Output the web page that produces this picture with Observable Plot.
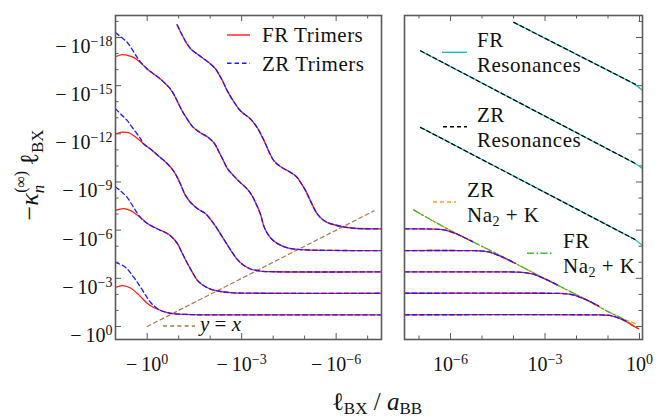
<!DOCTYPE html>
<html><head><meta charset="utf-8">
<script src="https://cdn.jsdelivr.net/npm/d3@7"></script>
<script src="https://cdn.jsdelivr.net/npm/@observablehq/plot@0.6"></script>
<style>
body{margin:0;background:#fff;}
#fig{position:relative;width:668px;height:417px;font-family:"Liberation Serif","DejaVu Serif",serif;}
#fig svg{position:absolute;top:0;}
#fig svg text{font-family:"Liberation Serif","DejaVu Serif",serif;}
</style></head><body><div id="fig"></div>
<script>
// ================= DATA (powers of ten) =================
// Left panel: x = log10|ℓBX/aBB| (negative side), y = log10|κ ℓBX|
const fr1X = [-0.95,-1.09,-1.27,-1.41,-1.59,-1.79,-2.01,-2.17,-2.27,-2.39,-2.54,-2.75,-2.96,-3.28,-3.49,-3.63,-3.76,-3.88,-4.02,-4.23,-4.55,-4.74,-4.87,-5.03,-5.18,-5.40,-5.57,-5.71,-6.03,-6.56,-7.44];
const fr1Y = [-18.79,-18.23,-17.59,-17.24,-16.97,-16.68,-16.35,-16.05,-15.73,-15.31,-14.69,-14.00,-13.44,-12.92,-12.40,-11.89,-11.37,-10.83,-10.33,-9.96,-9.60,-9.33,-8.98,-8.46,-7.84,-7.01,-6.66,-6.49,-6.29,-6.12,-6.08];
const fr2X = [1.01,0.79,0.63,0.43,0.21,0,-0.20,-0.42,-0.58,-0.74,-0.87,-0.95,-1.09,-1.27,-1.44,-1.69,-1.95,-2.14,-2.26,-2.39,-2.55,-2.74,-2.96,-3.15,-3.31,-3.44,-3.60,-3.72,-3.91,-4.14,-4.49,-4.87,-5.82,-7.44];
const fr2Y = [-16.80,-16.93,-16.89,-16.76,-16.43,-16.04,-15.74,-15.41,-15.12,-14.79,-14.37,-14.06,-13.50,-12.92,-12.45,-12.07,-11.76,-11.39,-10.95,-10.45,-9.83,-9.40,-8.96,-8.62,-8.21,-7.72,-6.97,-6.16,-5.54,-5.16,-4.88,-4.79,-4.74,-4.73];
const fr3X = [1.01,0.82,0.59,0.34,0.12,-0.17,-0.42,-0.64,-0.83,-0.96,-1.09,-1.22,-1.38,-1.60,-1.85,-2.04,-2.20,-2.36,-2.52,-2.68,-2.84,-3.03,-3.28,-3.60,-4.07,-7.44];
const fr3Y = [-11.98,-12.10,-12.07,-11.76,-11.39,-10.95,-10.52,-10.14,-9.71,-9.27,-8.71,-8.15,-7.72,-7.34,-7.03,-6.60,-6.16,-5.66,-5.16,-4.67,-4.23,-3.86,-3.58,-3.45,-3.41,-3.40];
const fr4X = [1.01,0.75,0.53,0.21,-0.01,-0.33,-0.64,-0.80,-0.96,-1.12,-1.28,-1.44,-1.60,-1.79,-2.01,-2.33,-2.74,-3.60,-7.44];
const fr4Y = [-7.22,-7.34,-7.22,-6.78,-6.41,-6.07,-5.79,-5.54,-5.16,-4.54,-3.92,-3.36,-2.86,-2.55,-2.33,-2.18,-2.10,-2.07,-2.07];
const fr5X = [1.01,0.78,0.53,0.31,0.15,-0.01,-0.20,-0.42,-0.64,-0.83,-1.22,-1.69,-7.44];
const fr5Y = [-2.43,-2.55,-2.40,-2.05,-1.74,-1.43,-1.18,-1.00,-0.87,-0.80,-0.75,-0.73,-0.73];
// ZR trimers: own left-hand part, then identical to FR
const zr2HeadX = [1.01,0.82,0.63,0.43,0.28], zr2HeadY = [-18.31,-18.01,-17.69,-17.11,-16.65], zr2From = 5;
const zr3HeadX = [1.01,0.82,0.63,0.40,0.21], zr3HeadY = [-13.57,-13.19,-12.82,-12.20,-11.70], zr3From = 4;
const zr4HeadX = [1.01,0.82,0.63,0.43], zr4HeadY = [-8.71,-8.40,-8.03,-7.41], zr4From = 3;
const zr5HeadX = [1.01,0.69,0.43,0.21,0,-0.17], zr5HeadY = [-4.00,-3.69,-3.07,-2.45,-1.80,-1.37], zr5From = 7;
// y = x guide
const yxX = [0, -7.2], yxY = [0, -7.2];

// Right panel: x = log10(ℓBX/aBB) (positive side), y = log10|κ ℓBX|
const rt1X = [-7.45,-7.0,-6.6,-6.33,-6.08,-5.83,-5.58,-5.3], rt1Y = [-6.08,-6.08,-6.07,-6.05,-5.96,-5.78,-5.56,-5.29];
const rt2X = [-7.45,-5.6,-5.23,-4.98,-4.73,-4.48,-4.23,-3.95], rt2Y = [-4.73,-4.73,-4.72,-4.70,-4.61,-4.43,-4.21,-3.94];
const rt3X = [-7.45,-4.3,-3.9,-3.65,-3.40,-3.15,-2.9,-2.6], rt3Y = [-3.40,-3.40,-3.39,-3.36,-3.27,-3.09,-2.87,-2.58];
const rt4X = [-7.45,-3.0,-2.55,-2.3,-2.07,-1.82,-1.57,-1.3], rt4Y = [-2.07,-2.07,-2.06,-2.03,-1.95,-1.77,-1.55,-1.28];
const rt5FrX = [-7.45,-1.6,-1.2,-0.95,-0.8,-0.6,-0.4,-0.22,-0.03], rt5FrY = [-0.73,-0.73,-0.72,-0.69,-0.62,-0.48,-0.28,-0.05,0.13];
const rt5ZrX = [-7.45,-1.6,-1.2,-0.95,-0.8,-0.6,-0.39], rt5ZrY = [-0.73,-0.73,-0.72,-0.69,-0.62,-0.48,-0.30];
const res1ZrX = [-3.99,-0.13], res1ZrY = [-18.94,-15.08];
const res1FrX = [-3.99,-1.0,-0.4,-0.15,0.09], res1FrY = [-18.94,-15.95,-15.35,-15.08,-14.72];
const res2ZrX = [-6.95,-0.13], res2ZrY = [-17.17,-10.15];
const res2FrX = [-6.95,-1.0,-0.4,-0.15,0.09], res2FrY = [-17.17,-11.04,-10.43,-10.17,-9.85];
const res3ZrX = [-6.95,-0.13], res3ZrY = [-12.40,-5.40];
const res3FrX = [-6.95,-1.0,-0.4,-0.15,0.09], res3FrY = [-12.40,-6.30,-5.68,-5.42,-5.06];
const adZrX = [-7.17,-6.0,-4.5,-3.0,-1.8,-1.0,-0.6,-0.13], adZrY = [-7.26,-5.98,-4.50,-2.97,-1.78,-0.93,-0.55,-0.17];
const adFrX = [-7.17,-6.0,-4.5,-3.0,-1.8,-1.0,-0.6,-0.3,0.01], adFrY = [-7.26,-5.98,-4.50,-2.97,-1.78,-0.93,-0.55,-0.20,0.21];

// ticks
const xMajL = [1, 1e-3, 1e-6], xMinL = [1e-1, 1e-2, 1e-4, 1e-5, 1e-7];
const xMajR = [1e-6, 1e-3, 1], xMinR = [1e-7, 1e-5, 1e-4, 1e-2, 1e-1];
const yMaj = [1e-18, 1e-15, 1e-12, 1e-9, 1e-6, 1e-3, 1];
const yMin = [1e-19, 1e-17, 1e-16, 1e-14, 1e-13, 1e-11, 1e-10, 1e-8, 1e-7, 1e-5, 1e-4, 1e-2, 1e-1];

// ================= BUILD =================
const P = e => Math.pow(10, e);
const rows = (xs, ys, name) => xs.map((x, i) => ({x: P(x), y: P(ys[i]), name}));
const frLeft = [rows(fr1X, fr1Y, "1"), rows(fr2X, fr2Y, "2"), rows(fr3X, fr3Y, "3"), rows(fr4X, fr4Y, "4"), rows(fr5X, fr5Y, "5")].flat();
const zrLeft = [
  rows(fr1X, fr1Y, "1"),
  rows(zr2HeadX.concat(fr2X.slice(zr2From)), zr2HeadY.concat(fr2Y.slice(zr2From)), "2"),
  rows(zr3HeadX.concat(fr3X.slice(zr3From)), zr3HeadY.concat(fr3Y.slice(zr3From)), "3"),
  rows(zr4HeadX.concat(fr4X.slice(zr4From)), zr4HeadY.concat(fr4Y.slice(zr4From)), "4"),
  rows(zr5HeadX.concat(fr5X.slice(zr5From)), zr5HeadY.concat(fr5Y.slice(zr5From)), "5")
].flat();
const frRight = [rows(rt1X, rt1Y, "1"), rows(rt2X, rt2Y, "2"), rows(rt3X, rt3Y, "3"), rows(rt4X, rt4Y, "4"), rows(rt5FrX, rt5FrY, "5")].flat();
const zrRight = [rows(rt1X, rt1Y, "1"), rows(rt2X, rt2Y, "2"), rows(rt3X, rt3Y, "3"), rows(rt4X, rt4Y, "4"), rows(rt5ZrX, rt5ZrY, "5")].flat();
const resFr = [rows(res1FrX, res1FrY, "1"), rows(res2FrX, res2FrY, "2"), rows(res3FrX, res3FrY, "3")].flat();
const resZr = [rows(res1ZrX, res1ZrY, "1"), rows(res2ZrX, res2ZrY, "2"), rows(res3ZrX, res3ZrY, "3")].flat();

const FONT = "Liberation Serif, DejaVu Serif, serif";
const FR_RED = "#ff1a1a", ZR_BLUE = "#1a1aff", CYAN = "#1cbcc4", ORANGE = "#ff9a2a", GREEN = "#3fb83a", BROWN = "#a57a4e";
const FS = "#5a5a5a";
const H = 417, MT = 15, MB = 78, FH = H - MT - MB;
const yScale = {type: "log", domain: [P(0.81), P(-19.37)], label: null};
const TM = 6, Tm = 3.5;
const expFmt = neg => d => (neg ? "−\u2009" : "") + "10^" + Math.round(Math.log10(d));

// Left panel
const WL = 392, MLL = 115, MRL = 11, FWL = WL - MLL - MRL;
const left = Plot.plot({
  width: WL, height: H, marginLeft: MLL, marginRight: MRL, marginTop: MT, marginBottom: MB,
  style: {fontFamily: FONT, fontSize: "20px", background: "transparent", overflow: "visible", color: "#111"},
  x: {type: "log", domain: [P(1.006), P(-7.44)], label: null},
  y: yScale,
  marks: [
    Plot.tickX(xMajL, {x: d => d, insetTop: FH - TM, stroke: FS}),
    Plot.tickX(xMinL, {x: d => d, insetTop: FH - Tm, stroke: FS}),
    Plot.tickX(xMajL, {x: d => d, insetBottom: FH - TM, stroke: FS}),
    Plot.tickX(xMinL, {x: d => d, insetBottom: FH - Tm, stroke: FS}),
    Plot.tickY(yMaj, {y: d => d, insetRight: FWL - TM, stroke: FS}),
    Plot.tickY(yMin, {y: d => d, insetRight: FWL - Tm, stroke: FS}),
    Plot.line(rows(yxX, yxY, "yx"), {x: "x", y: "y", stroke: BROWN, strokeWidth: 1.2, strokeDasharray: "4,3.2", clip: true}),
    Plot.line(frLeft, {x: "x", y: "y", z: "name", stroke: FR_RED, strokeWidth: 1.3, curve: "catmull-rom", clip: true}),
    Plot.line(zrLeft, {x: "x", y: "y", z: "name", stroke: ZR_BLUE, strokeWidth: 1.3, strokeDasharray: "4.5,3", curve: "catmull-rom", clip: true}),
    Plot.axisX(xMajL, {tickSize: 0, tickPadding: 17, tickFormat: expFmt(true), label: null}),
    Plot.axisY(yMaj, {tickSize: 0, tickPadding: 3, tickFormat: expFmt(true), label: null}),
    Plot.frame({stroke: FS, strokeWidth: 1.6})
  ]
});

// Right panel
const WR = 276, MLR = 12, MRR = 26, FWR = WR - MLR - MRR;
const right = Plot.plot({
  width: WR, height: H, marginLeft: MLR, marginRight: MRR, marginTop: MT, marginBottom: MB,
  style: {fontFamily: FONT, fontSize: "20px", background: "transparent", overflow: "visible", color: "#111"},
  x: {type: "log", domain: [P(-7.46), P(0.095)], label: null},
  y: {...yScale, axis: null},
  marks: [
    Plot.tickX(xMajR, {x: d => d, insetTop: FH - TM, stroke: FS}),
    Plot.tickX(xMinR, {x: d => d, insetTop: FH - Tm, stroke: FS}),
    Plot.tickX(xMajR, {x: d => d, insetBottom: FH - TM, stroke: FS}),
    Plot.tickX(xMinR, {x: d => d, insetBottom: FH - Tm, stroke: FS}),
    Plot.tickY(yMaj, {y: d => d, insetLeft: FWR - TM, stroke: FS}),
    Plot.tickY(yMin, {y: d => d, insetLeft: FWR - Tm, stroke: FS}),
    Plot.line(resFr, {x: "x", y: "y", z: "name", stroke: CYAN, strokeWidth: 1.3, curve: "catmull-rom", clip: true}),
    Plot.line(resZr, {x: "x", y: "y", z: "name", stroke: "#000", strokeWidth: 1.2, strokeDasharray: "4,3", clip: true}),
    Plot.line(rows(adZrX, adZrY, "zr"), {x: "x", y: "y", stroke: ORANGE, strokeWidth: 1.3, strokeDasharray: "4,3", curve: "catmull-rom", clip: true}),
    Plot.line(rows(adFrX, adFrY, "fr"), {x: "x", y: "y", stroke: GREEN, strokeWidth: 1.3, strokeDasharray: "7,2.5,1.5,2.5", curve: "catmull-rom", clip: true}),
    Plot.line(frRight, {x: "x", y: "y", z: "name", stroke: FR_RED, strokeWidth: 1.3, curve: "catmull-rom", clip: true}),
    Plot.line(zrRight, {x: "x", y: "y", z: "name", stroke: ZR_BLUE, strokeWidth: 1.3, strokeDasharray: "4.5,3", curve: "catmull-rom", clip: true}),
    Plot.axisX(xMajR, {tickSize: 0, tickPadding: 17, tickFormat: expFmt(false), label: null}),
    Plot.frame({stroke: FS, strokeWidth: 1.6})
  ]
});

function superscriptify(svg, isY) {
  d3.select(svg).selectAll("text").each(function () {
    const t = this.textContent;
    const m = t.match(/^(.*)\^(.*)$/);
    if (!m) return;
    const s = d3.select(this);
    s.text(null);
    if (isY && this.closest('[aria-label="y-axis tick label"]')) s.attr("dy", "0.45em");
    s.append("tspan").text(m[1]);
    s.append("tspan").attr("dy", "-0.5em").attr("font-size", "14px").text(m[2].replace("-", "−"));
  });
}
superscriptify(left, true);
superscriptify(right, false);

const fig = document.getElementById("fig");
left.style.left = "0px";
right.style.left = WL + "px";
fig.appendChild(left);
fig.appendChild(right);

// overlay: axis titles and legends
const ov = d3.select(fig).append("svg").attr("width", 668).attr("height", 417)
  .style("left", "0px").style("pointer-events", "none")
  .attr("font-family", FONT).attr("fill", "#111");

// y title
const yt = ov.append("text").attr("transform", "translate(38,175) rotate(-90)").attr("text-anchor", "middle").attr("font-size", 26);
yt.append("tspan").text("−");
yt.append("tspan").attr("font-style", "italic").text("κ");
yt.append("tspan").attr("font-size", 17).attr("font-style", "italic").attr("dy", 6).text("n");
yt.append("tspan").attr("font-size", 16).attr("dx", -8).attr("dy", -18).text("(∞)");
yt.append("tspan").attr("dy", 12).text("\u2009");
yt.append("tspan").text("ℓ");
yt.append("tspan").attr("font-size", 17).attr("dy", 5).text("BX");

// x title
const xt = ov.append("text").attr("x", 377).attr("y", 410).attr("text-anchor", "middle").attr("font-size", 25);
xt.append("tspan").text("ℓ");
xt.append("tspan").attr("font-size", 17).attr("dy", 4).text("BX");
xt.append("tspan").attr("dy", -4).text(" / ");
xt.append("tspan").attr("font-style", "italic").text("a");
xt.append("tspan").attr("font-size", 17).attr("dy", 4).text("BB");

// legends
function sample(x1, x2, y, color, dash) {
  const l = ov.append("line").attr("x1", x1).attr("x2", x2).attr("y1", y).attr("y2", y)
    .attr("stroke", color).attr("stroke-width", 1.4);
  if (dash) l.attr("stroke-dasharray", dash);
}
function label(x, y, txt) {
  return ov.append("text").attr("x", x).attr("y", y).attr("font-size", 21).attr("letter-spacing", 0.5).text(txt);
}
function na2k(x, y) {
  const t = ov.append("text").attr("x", x).attr("y", y).attr("font-size", 21).attr("letter-spacing", 0.5);
  t.append("tspan").text("Na");
  t.append("tspan").attr("font-size", 14).attr("dy", 4).text("2");
  t.append("tspan").attr("dy", -4).text(" + K");
}
sample(227, 250, 35, FR_RED);
label(262, 41.7, "FR Trimers");
sample(227, 250, 63.3, ZR_BLUE, "4.5,3");
label(262, 70.7, "ZR Trimers");
sample(163, 195, 326, BROWN, "4,3.2");
const yx = ov.append("text").attr("x", 200).attr("y", 331).attr("font-size", 21);
yx.append("tspan").attr("font-style", "italic").text("y");
yx.append("tspan").text(" = ");
yx.append("tspan").attr("font-style", "italic").text("x");

sample(442, 467, 52.3, CYAN);
label(477, 46.7, "FR");
label(477, 71.7, "Resonances");
sample(443, 467, 126.7, "#000", "4,3");
label(477, 121.7, "ZR");
label(477, 146.7, "Resonances");
sample(433, 456, 202, ORANGE, "4,3");
label(467, 196.7, "ZR");
na2k(467, 221.7);
sample(527, 552, 253.3, GREEN, "7,2.5,1.5,2.5");
label(563, 248.3, "FR");
na2k(563, 273.3);
</script>
</body></html>
